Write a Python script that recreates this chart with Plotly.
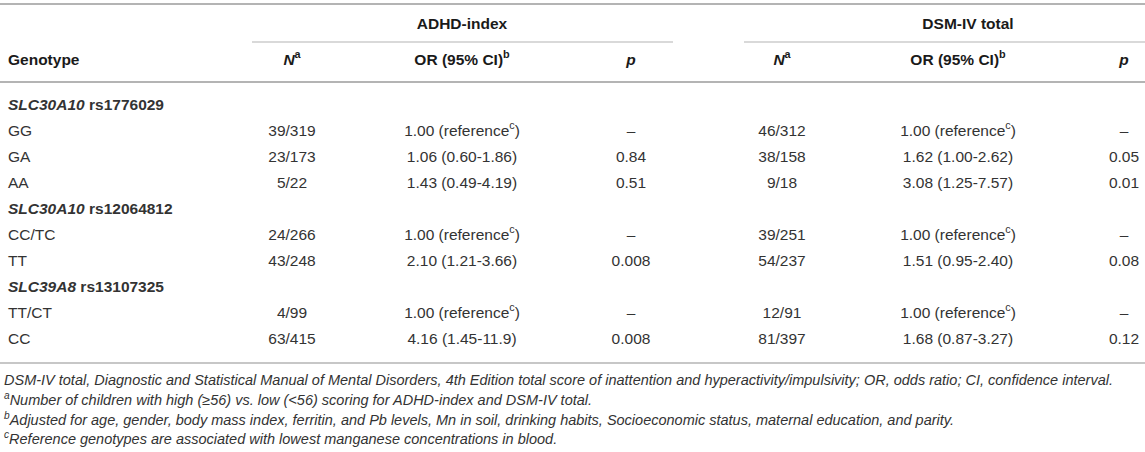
import plotly.graph_objects as go

# Table content
genotypes = ["<b><i>SLC30A10</i> rs1776029</b>", "GG", "GA", "AA",
             "<b><i>SLC30A10</i> rs12064812</b>", "CC/TC", "TT",
             "<b><i>SLC39A8</i> rs13107325</b>", "TT/CT", "CC"]
adhd_n = ["", "39/319", "23/173", "5/22", "", "24/266", "43/248", "", "4/99", "63/415"]
adhd_or = ["", "1.00 (reference<sup>c</sup>)", "1.06 (0.60-1.86)", "1.43 (0.49-4.19)", "",
           "1.00 (reference<sup>c</sup>)", "2.10 (1.21-3.66)", "",
           "1.00 (reference<sup>c</sup>)", "4.16 (1.45-11.9)"]
adhd_p = ["", "–", "0.84", "0.51", "", "–", "0.008", "", "–", "0.008"]
dsm_n = ["", "46/312", "38/158", "9/18", "", "39/251", "54/237", "", "12/91", "81/397"]
dsm_or = ["", "1.00 (reference<sup>c</sup>)", "1.62 (1.00-2.62)", "3.08 (1.25-7.57)", "",
          "1.00 (reference<sup>c</sup>)", "1.51 (0.95-2.40)", "",
          "1.00 (reference<sup>c</sup>)", "1.68 (0.87-3.27)"]
dsm_p = ["", "–", "0.05", "0.01", "", "–", "0.08", "", "–", "0.12"]

col_headers = ["<b>Genotype</b>", "<b><i>N</i><sup>a</sup></b>", "<b>OR (95% CI)<sup>b</sup></b>",
               "<b><i>p</i></b>", "<b><i>N</i><sup>a</sup></b>", "<b>OR (95% CI)<sup>b</sup></b>",
               "<b><i>p</i></b>"]
group_headers = ["<b>ADHD-index</b>", "<b>DSM-IV total</b>"]

footnotes = [
    "<i>DSM-IV total, Diagnostic and Statistical Manual of Mental Disorders, 4th Edition total score of "
    "inattention and hyperactivity/impulsivity; OR, odds ratio; CI, confidence interval.</i>",
    "<i><sup>a</sup>Number of children with high (≥56) vs. low (<56) scoring for ADHD-index and DSM-IV total.</i>",
    "<i><sup>b</sup>Adjusted for age, gender, body mass index, ferritin, and Pb levels, Mn in soil, drinking "
    "habits, Socioeconomic status, maternal education, and parity.</i>",
    "<i><sup>c</sup>Reference genotypes are associated with lowest manganese concentrations in blood.</i>",
]

# layout (pixel space)
W, H = 1145, 452
col_x = [8, 292, 462, 631, 782, 958, 1124]
group_x = [462, 968]
row0, row_step = 106, 26
rows_y = [row0 + i * row_step for i in range(len(genotypes))]
fn_y = [381, 401, 421, 440]

font_family = "Liberation Sans, Arial, Helvetica, sans-serif"
body_col = "#333333"
head_col = "#1a1a1a"
rule_col = "#b4b4b4"
fs = 15.5

fig = go.Figure()

# body cells
fig.add_trace(go.Scatter(x=[col_x[0]] * len(genotypes), y=rows_y, text=genotypes,
                         mode="text", textposition="middle right",
                         textfont=dict(family=font_family, size=fs, color=body_col)))
for cx, col in zip(col_x[1:], [adhd_n, adhd_or, adhd_p, dsm_n, dsm_or, dsm_p]):
    fig.add_trace(go.Scatter(x=[cx] * len(col), y=rows_y, text=col,
                             mode="text", textposition="middle center",
                             textfont=dict(family=font_family, size=fs, color=body_col)))

# headers
fig.add_trace(go.Scatter(x=[col_x[0]], y=[61], text=[col_headers[0]], mode="text",
                         textposition="middle right",
                         textfont=dict(family=font_family, size=fs, color=head_col)))
fig.add_trace(go.Scatter(x=col_x[1:], y=[61] * 6, text=col_headers[1:], mode="text",
                         textposition="middle center",
                         textfont=dict(family=font_family, size=fs, color=head_col)))
fig.add_trace(go.Scatter(x=group_x, y=[25, 25], text=group_headers, mode="text",
                         textposition="middle center",
                         textfont=dict(family=font_family, size=fs, color=head_col)))

# footnotes
fig.add_trace(go.Scatter(x=[4] * len(footnotes), y=fn_y, text=footnotes, mode="text",
                         textposition="middle right",
                         textfont=dict(family=font_family, size=14.5, color=body_col)))

# rules
rules = [(0, W, 4, 2), (252, 673, 42, 1.2), (744, W, 42, 1.2), (0, W, 82, 2), (0, W, 363, 1.5)]
for x0, x1, y, w in rules:
    fig.add_shape(type="line", x0=x0, x1=x1, y0=y, y1=y, xref="x", yref="y",
                  line=dict(color=rule_col, width=w))

fig.update_layout(
    width=W, height=H,
    margin=dict(l=0, r=0, t=0, b=0),
    paper_bgcolor="white", plot_bgcolor="white",
    showlegend=False,
    hovermode=False,
    xaxis=dict(range=[0, W], visible=False, fixedrange=True),
    yaxis=dict(range=[H, 0], visible=False, fixedrange=True),
)

fig.write_html("out.html", config={"displayModeBar": False},
               post_script="document.body.style.margin='0';document.body.style.overflow='hidden';")
